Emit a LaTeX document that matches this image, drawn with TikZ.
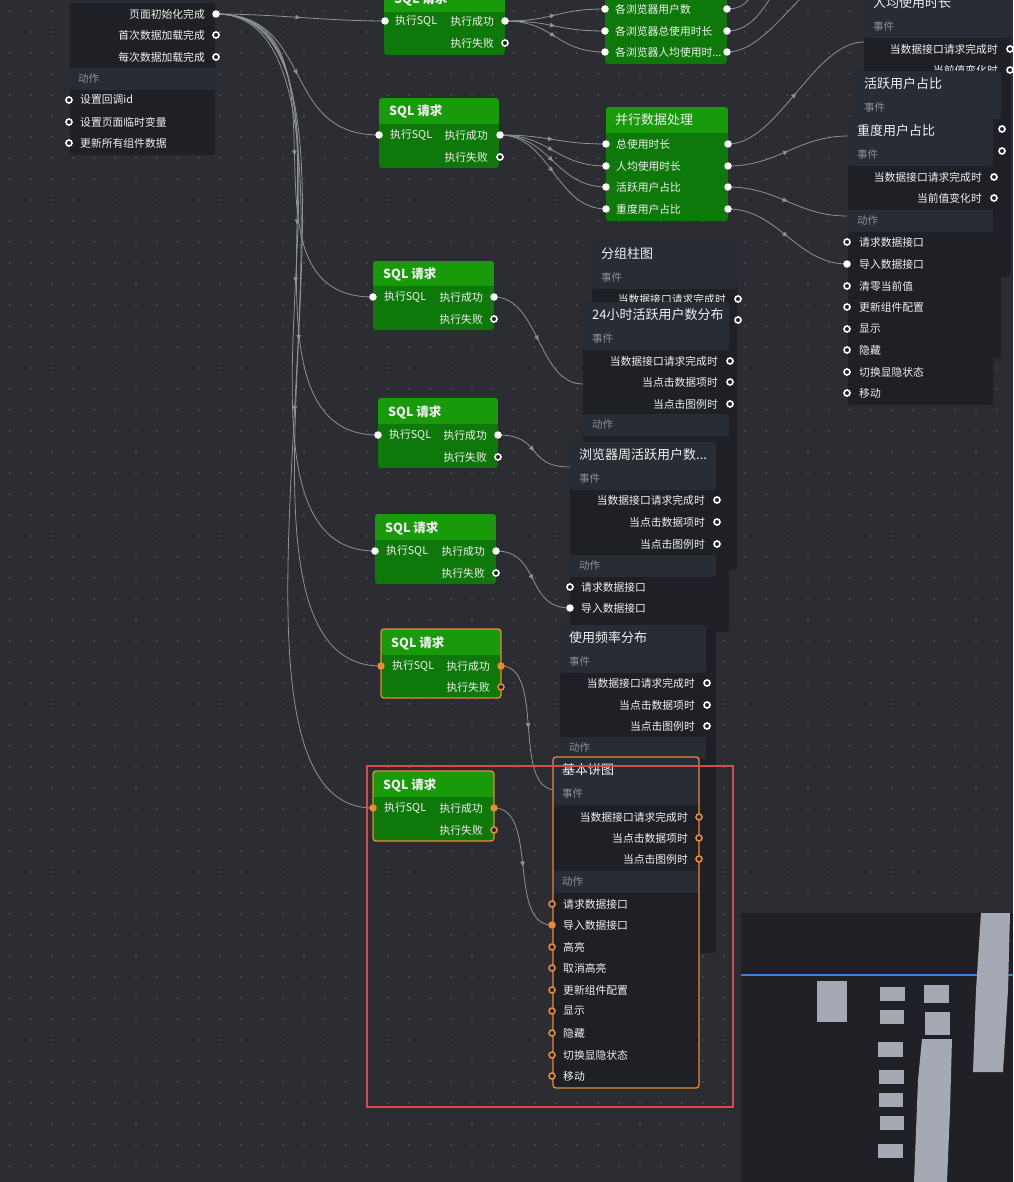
\documentclass[tikz,border=0pt]{standalone}
\usepackage{fontspec}
\setmainfont{Noto Sans CJK SC}
\usetikzlibrary{arrows.meta,decorations.markings}
\definecolor{bg}{HTML}{2B2D33}
\definecolor{dotc}{HTML}{5A5E66}
\definecolor{cardbody}{HTML}{1E2026}
\definecolor{cardhead}{HTML}{282C35}
\definecolor{bandtxt}{HTML}{8B9099}
\definecolor{ghead}{HTML}{189A0B}
\definecolor{gbody}{HTML}{0F780A}
\definecolor{connc}{HTML}{8E9196}
\definecolor{orangec}{HTML}{EA8A34}
\definecolor{redc}{HTML}{D84A4F}
\definecolor{mapbg}{HTML}{1F2126}
\definecolor{mapblk}{HTML}{A4A9B4}
\definecolor{bluec}{HTML}{3D7FE0}
\definecolor{txtc}{HTML}{F0F0F0}
\tikzset{
  rowtxt/.style={inner sep=0pt,text=txtc,font=\fontsize{10.8}{12}\selectfont},
  titletxt/.style={inner sep=0pt,text=txtc,font=\fontsize{13}{15}\selectfont},
  sqltitle/.style={inner sep=0pt,text=txtc,font=\fontsize{12.5}{15}\selectfont\bfseries},
  bandtx/.style={inner sep=0pt,text=bandtxt,font=\fontsize{10.5}{12}\selectfont},
  portF/.style={circle,fill=white,minimum size=7.5pt,inner sep=0pt},
  portH/.style={circle,draw=white,line width=1.6pt,fill=cardbody,minimum size=6pt,inner sep=0pt},
  portOF/.style={circle,fill=orangec,minimum size=7.5pt,inner sep=0pt},
  portOH/.style={circle,draw=orangec,line width=1.6pt,fill=cardbody,minimum size=6pt,inner sep=0pt},
  conn/.style={draw=connc,line width=0.8pt,postaction={decorate},
    decoration={markings,mark=at position 0.5 with {\arrow[connc]{Triangle[length=5pt,width=4.5pt]}}}},
  plainconn/.style={draw=connc,line width=0.8pt},
  selbox/.style={draw=orangec,line width=1.3pt,rounded corners=3pt}
}
\newcounter{tn}
\newcommand\TL[3]{\stepcounter{tn}\node[rowtxt,anchor=west] (t\thetn) at (#1,#2) {#3};}
\newcommand\TR[3]{\stepcounter{tn}\node[rowtxt,anchor=east] (t\thetn) at (#1,#2) {#3};}
\newcommand\TT[3]{\stepcounter{tn}\node[titletxt,anchor=west] (t\thetn) at (#1,#2) {#3};}
\newcommand\TS[3]{\stepcounter{tn}\node[sqltitle,anchor=west] (t\thetn) at (#1,#2) {#3};}
\newcommand\TB[3]{\stepcounter{tn}\node[bandtx,anchor=west] (t\thetn) at (#1,#2) {#3};}
\newcommand\PF[1]{\node[portF] (#1-g) at (#1) {};}
\newcommand\POF[1]{\node[portOF] (#1-g) at (#1) {};}
\newcommand\PH[2]{\stepcounter{tn}\node[portH] (p\thetn) at (#1,#2) {};}
\newcommand\POH[2]{\stepcounter{tn}\node[portOH] (p\thetn) at (#1,#2) {};}
\newcommand\SQLBOX[6]{%
  \begin{scope}
  \clip[rounded corners=3pt] (#1,#2) rectangle (#3,#4);
  \fill[gbody] (#1,#2) rectangle (#3,#4);
  \fill[ghead] (#1,#2) rectangle (#3,#5);
  \end{scope}
  \TS{#1+10}{#6}{SQL 请求}}
\newcommand\CARD[5]{%
  \fill[cardbody,rounded corners=3pt] (#1,#2) rectangle (#3,#4);
  \fill[cardhead,rounded corners=3pt] (#1,#2) rectangle (#3,#2+48);
  \TT{#1+9}{#2+13}{#5}
  \TB{#1+9}{#2+37}{事件}}
\newcommand\ACTBAND[4]{%
  \fill[cardhead] (#1,#2) rectangle (#3,#2+22);
  \TB{#4}{#2+11}{动作}}
\begin{document}
\begin{tikzpicture}[x=1pt,y=-1pt]
\useasboundingbox (0,0) rectangle (1013,1182);
\clip (0,0) rectangle (1013,1182);
\fill[bg] (0,0) rectangle (1013,1182);
\foreach \i in {0,...,48} \foreach \j in {0,...,56} \fill[dotc] (10+21*\i,11+21*\j) circle (0.9pt);

% ---- port coordinates
\coordinate (pg-init) at (216,14);
\coordinate (s1-in) at (385,21); \coordinate (s1-ok) at (505,21);
\coordinate (s2-in) at (379,135); \coordinate (s2-ok) at (500,135);
\coordinate (s3-in) at (373,297); \coordinate (s3-ok) at (494,297);
\coordinate (s4-in) at (378,435); \coordinate (s4-ok) at (498,435);
\coordinate (s5-in) at (375,551); \coordinate (s5-ok) at (496,551);
\coordinate (s6-in) at (381,666); \coordinate (s6-ok) at (501,666);
\coordinate (s7-in) at (373,808); \coordinate (s7-ok) at (494,808);
\coordinate (pa-i1) at (605,9); \coordinate (pa-i2) at (605,31); \coordinate (pa-i3) at (605,52);
\coordinate (pa-o1) at (727,9); \coordinate (pa-o2) at (727,31); \coordinate (pa-o3) at (727,52);
\coordinate (pp-i1) at (606,144); \coordinate (pp-i2) at (606,166); \coordinate (pp-i3) at (606,187); \coordinate (pp-i4) at (606,209);
\coordinate (pp-o1) at (728,144); \coordinate (pp-o2) at (728,166); \coordinate (pp-o3) at (728,187); \coordinate (pp-o4) at (728,209);
\coordinate (ex1) at (790,-60); \coordinate (ex2) at (820,-45); \coordinate (ex3) at (850,-30);
\coordinate (rj-x) at (864,42); \coordinate (zd-x1) at (848,136); \coordinate (zd-x2) at (847,216); \coordinate (zd-imp) at (847,264);
\coordinate (h24-x) at (583,384); \coordinate (lz-x) at (570,467); \coordinate (lz-imp) at (570,608);
\coordinate (sy-x) at (556,790); \coordinate (bp-imp) at (552,925);

% ---- connectors
\draw[conn] (pg-init) .. controls +(60,0) and +(-60,0) .. (s1-in);
\draw[conn] (pg-init) .. controls +(100,0) and +(-100,0) .. (s2-in);
\draw[conn] (pg-init) .. controls +(150,0) and +(-150,0) .. (s3-in);
\draw[conn] (pg-init) .. controls +(170,0) and +(-170,0) .. (s4-in);
\draw[conn] (pg-init) .. controls +(185,0) and +(-185,0) .. (s5-in);
\draw[conn] (pg-init) .. controls +(195,0) and +(-195,0) .. (s6-in);
\draw[conn] (pg-init) .. controls +(200,0) and +(-200,0) .. (s7-in);
\foreach \k in {1,2,3} \draw[conn] (s1-ok) .. controls +(50,0) and +(-50,0) .. (pa-i\k);
\foreach \k in {1,2,3,4} \draw[conn] (s2-ok) .. controls +(50,0) and +(-50,0) .. (pp-i\k);
\foreach \k in {1,2,3} \draw[plainconn] (pa-o\k) .. controls +(45,0) and +(-45,0) .. (ex\k);
\draw[conn] (pp-o1) .. controls +(50,0) and +(-50,0) .. (rj-x);
\draw[conn] (pp-o2) .. controls +(50,0) and +(-50,0) .. (zd-x1);
\draw[conn] (pp-o3) .. controls +(50,0) and +(-50,0) .. (zd-x2);
\draw[conn] (pp-o4) .. controls +(50,0) and +(-50,0) .. (zd-imp);
\draw[conn] (s3-ok) .. controls +(45,0) and +(-45,0) .. (h24-x);
\draw[conn] (s4-ok) .. controls +(45,0) and +(-45,0) .. (lz-x);
\draw[conn] (s5-ok) .. controls +(45,0) and +(-45,0) .. (lz-imp);
\draw[conn] (s6-ok) .. controls +(45,0) and +(-45,0) .. (sy-x);
\draw[conn] (s7-ok) .. controls +(45,0) and +(-45,0) .. (bp-imp);

% ---- page card
\fill[cardbody,rounded corners=3pt] (70,-20) rectangle (215,155);
\fill[cardhead] (70,-20) rectangle (215,3);
\TR{205}{14}{页面初始化完成} \PF{pg-init}
\TR{205}{35}{首次数据加载完成} \PH{216}{35}
\TR{205}{57}{每次数据加载完成} \PH{216}{57}
\ACTBAND{70}{68}{215}{78}
\TL{80}{100}{设置回调id} \PH{69}{100}
\TL{80}{122}{设置页面临时变量} \PH{69}{122}
\TL{80}{143}{更新所有组件数据} \PH{69}{143}

% ---- SQL nodes
\SQLBOX{384}{-40}{505}{55}{12}{-1}
\TL{395}{21}{执行SQL} \TR{494}{21}{执行成功} \TR{494}{43}{执行失败}
\PF{s1-in} \PF{s1-ok} \PH{505}{43}

\SQLBOX{379}{98}{499}{168}{124}{111}
\TL{390}{135}{执行SQL} \TR{488}{135}{执行成功} \TR{488}{157}{执行失败}
\PF{s2-in} \PF{s2-ok} \PH{500}{157}

\SQLBOX{373}{261}{494}{330}{286}{274}
\TL{384}{297}{执行SQL} \TR{483}{297}{执行成功} \TR{483}{319}{执行失败}
\PF{s3-in} \PF{s3-ok} \PH{494}{319}

\SQLBOX{378}{398}{498}{468}{424}{412}
\TL{389}{435}{执行SQL} \TR{487}{435}{执行成功} \TR{487}{457}{执行失败}
\PF{s4-in} \PF{s4-ok} \PH{498}{457}

\SQLBOX{375}{514}{496}{584}{540}{528}
\TL{386}{551}{执行SQL} \TR{485}{551}{执行成功} \TR{485}{573}{执行失败}
\PF{s5-in} \PF{s5-ok} \PH{496}{573}

\SQLBOX{381}{629}{501}{698}{655}{643}
\draw[selbox] (381,629) rectangle (501,698);
\TL{392}{666}{执行SQL} \TR{490}{666}{执行成功} \TR{490}{687}{执行失败}
\POF{s6-in} \POF{s6-ok} \POH{501}{687}

\SQLBOX{373}{771}{494}{841}{797}{785}
\draw[selbox] (373,771) rectangle (494,841);
\TL{384}{808}{执行SQL} \TR{483}{808}{执行成功} \TR{483}{830}{执行失败}
\POF{s7-in} \POF{s7-ok} \POH{494}{830}

% ---- green processing nodes
\begin{scope}
\clip[rounded corners=3pt] (605,-40) rectangle (727,64);
\fill[gbody] (605,-40) rectangle (727,64);
\fill[ghead] (605,-40) rectangle (727,-2);
\end{scope}
\TL{615}{9}{各浏览器用户数} \TL{615}{31}{各浏览器总使用时长} \TL{615}{52}{各浏览器人均使用时...}
\PF{pa-i1} \PF{pa-i2} \PF{pa-i3} \PF{pa-o1} \PF{pa-o2} \PF{pa-o3}

\begin{scope}
\clip[rounded corners=3pt] (606,107) rectangle (728,221);
\fill[gbody] (606,107) rectangle (728,221);
\fill[ghead] (606,107) rectangle (728,133);
\end{scope}
\TT{615}{120}{并行数据处理}
\TL{616}{144}{总使用时长} \TL{616}{166}{人均使用时长} \TL{616}{187}{活跃用户占比} \TL{616}{209}{重度用户占比}
\PF{pp-i1} \PF{pp-i2} \PF{pp-i3} \PF{pp-i4} \PF{pp-o1} \PF{pp-o2} \PF{pp-o3} \PF{pp-o4}

% ---- right column cards
\CARD{864}{-10}{1010}{277}{人均使用时长}
\TR{998}{49}{当数据接口请求完成时} \PH{1010}{49}
\TR{998}{70}{当前值变化时} \PH{1010}{70}

\CARD{855}{71}{1001}{358}{活跃用户占比}
\PH{1002}{129} \PH{1002}{151}

\CARD{848}{118}{993}{405}{重度用户占比}
\TR{982}{177}{当数据接口请求完成时} \PH{994}{177}
\TR{982}{198}{当前值变化时} \PH{994}{198}
\ACTBAND{848}{210}{993}{857}
\TL{859}{242}{请求数据接口} \PH{847}{242}
\TL{859}{264}{导入数据接口} \PF{zd-imp}
\TL{859}{286}{清零当前值} \PH{847}{286}
\TL{859}{307}{更新组件配置} \PH{847}{307}
\TL{859}{329}{显示} \PH{847}{329}
\TL{859}{350}{隐藏} \PH{847}{350}
\TL{859}{372}{切换显隐状态} \PH{847}{372}
\TL{859}{393}{移动} \PH{847}{393}

% ---- middle stacked cards
\CARD{592}{241}{737}{570}{分组柱图}
\TR{726}{299}{当数据接口请求完成时} \PH{738}{299} \PH{738}{320}

\CARD{583}{302}{729}{632}{24小时活跃用户数分布}
\TR{718}{361}{当数据接口请求完成时} \PH{730}{361}
\TR{718}{382}{当点击数据项时} \PH{730}{382}
\TR{718}{404}{当点击图例时} \PH{730}{404}
\ACTBAND{583}{414}{729}{592}

\CARD{570}{442}{716}{953}{浏览器周活跃用户数...}
\TR{705}{500}{当数据接口请求完成时} \PH{717}{500}
\TR{705}{522}{当点击数据项时} \PH{717}{522}
\TR{705}{544}{当点击图例时} \PH{717}{544}
\ACTBAND{570}{555}{716}{579}
\TL{581}{587}{请求数据接口} \PH{570}{587}
\TL{581}{608}{导入数据接口} \PF{lz-imp}

\CARD{560}{625}{706}{953}{使用频率分布}
\TR{695}{683}{当数据接口请求完成时} \PH{707}{683}
\TR{695}{705}{当点击数据项时} \PH{707}{705}
\TR{695}{726}{当点击图例时} \PH{707}{726}
\ACTBAND{560}{737}{706}{569}

\CARD{553}{757}{699}{1088}{基本饼图}
\draw[selbox] (553,757) rectangle (699,1088);
\TR{688}{817}{当数据接口请求完成时} \POH{699}{817}
\TR{688}{838}{当点击数据项时} \POH{699}{838}
\TR{688}{859}{当点击图例时} \POH{699}{859}
\fill[cardhead] (554,871) rectangle (698,893);
\TB{562}{882}{动作}
\TL{563}{904}{请求数据接口} \POH{552}{904}
\TL{563}{925}{导入数据接口} \POF{bp-imp}
\TL{563}{947}{高亮} \POH{552}{947}
\TL{563}{968}{取消高亮} \POH{552}{968}
\TL{563}{990}{更新组件配置} \POH{552}{990}
\TL{563}{1011}{显示} \POH{552}{1011}
\TL{563}{1033}{隐藏} \POH{552}{1033}
\TL{563}{1055}{切换显隐状态} \POH{552}{1055}
\TL{563}{1076}{移动} \POH{552}{1076}

% ---- selection rectangle
\draw[redc,line width=1.3pt] (367,766) rectangle (733,1107);

% ---- minimap
\fill[mapbg] (741,913) rectangle (1013,1182);
\draw[bluec,line width=1.2pt] (741,975) -- (1013,975);
\fill[mapblk] (817,981) rectangle (847,1022);
\fill[mapblk] (880,987) rectangle (905,1001);
\fill[mapblk] (880,1010) rectangle (904,1024);
\fill[mapblk] (878,1042) rectangle (903,1057);
\fill[mapblk] (879,1070) rectangle (904,1084);
\fill[mapblk] (879,1093) rectangle (903,1107);
\fill[mapblk] (880,1116) rectangle (904,1130);
\fill[mapblk] (878,1144) rectangle (903,1158);
\fill[mapblk] (924,985) rectangle (949,1003);
\fill[mapblk] (925,1012) rectangle (950,1035);
\fill[mapblk] (922,1039) -- (952,1039) -- (950,1110) -- (947,1182) -- (914,1182) -- (918,1080) -- cycle;
\fill[mapblk] (981,913) -- (1010,913) -- (1008,990) -- (1003,1072) -- (973,1072) -- (976,990) -- cycle;
\end{tikzpicture}
\end{document}
